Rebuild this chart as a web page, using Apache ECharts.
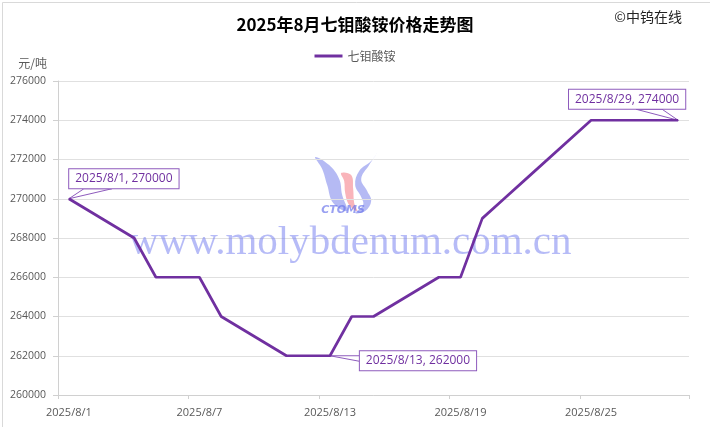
<!DOCTYPE html>
<html>
<head>
<meta charset="utf-8">
<script src="https://cdn.jsdelivr.net/npm/echarts@6/dist/echarts.min.js"></script>
<style>
  html, body { margin: 0; padding: 0; background: #fff; }
  #chart { width: 710px; height: 427px; }
</style>
</head>
<body>
<div id="chart"></div>
<script>
// Calendar days of August 2025 shown on the category axis
const days = [
  '2025/8/1','2025/8/2','2025/8/3','2025/8/4','2025/8/5','2025/8/6','2025/8/7',
  '2025/8/8','2025/8/9','2025/8/10','2025/8/11','2025/8/12','2025/8/13','2025/8/14',
  '2025/8/15','2025/8/16','2025/8/17','2025/8/18','2025/8/19','2025/8/20','2025/8/21',
  '2025/8/22','2025/8/23','2025/8/24','2025/8/25','2025/8/26','2025/8/27','2025/8/28',
  '2025/8/29'
];
// Ammonium heptamolybdate price, yuan/ton (null = no quote that day)
const prices = [
  270000, null, null, 268000, 266000, 266000, 266000,
  264000, null, null, 262000, 262000, 262000, 264000,
  264000, null, null, 266000, 266000, 269000, 270000,
  271000, null, null, 274000, 274000, 274000, 274000,
  274000
];
// Days carrying a callout: box offset from the point, and where the
// pointer wedge meets the box (edge + two offsets along it, from box centre)
const callouts = [
  { day: '2025/8/1',  dx: 55,  dy: -20, edge: 'bottom', a: -40, b: -12 },
  { day: '2025/8/13', dx: 88,  dy: 5,   edge: 'left',   a: -5,  b: 1 },
  { day: '2025/8/29', dx: -51, dy: -21, edge: 'bottom', a: 9,   b: 35 }
];
const yTicks = { min: 260000, max: 276000, step: 2000 };

const purple = '#7030A0';
const calloutLine = '#8e5bbd';
const grey = '#595959';

const seriesData = prices.map((v, i) => {
  const c = callouts.find(o => o.day === days[i]);
  if (!c || v === null) return v;
  return {
    value: v,
    label: {
      show: true,
      position: 'inside',
      formatter: days[i] + ', ' + v,
      color: purple,
      fontSize: 12,
      fontFamily: 'Open Sans, sans-serif',
      backgroundColor: '#fff',
      borderColor: calloutLine,
      borderWidth: 1,
      padding: [4, 6, 3, 6]
    }
  };
});

const blueMark = 'rgba(120,130,235,0.55)';

const chart = echarts.init(document.getElementById('chart'));
chart.setOption({
  backgroundColor: '#fff',
  animation: false,
  title: {
    text: '2025年8月七钼酸铵价格走势图',
    left: 'center',
    top: 11,
    textStyle: { fontFamily: 'Noto Sans CJK SC', fontWeight: 'bold', fontSize: 17, color: '#000' }
  },
  legend: {
    top: 45,
    left: 'center',
    icon: 'rect',
    itemWidth: 28,
    itemHeight: 3,
    itemGap: 4,
    textStyle: { fontFamily: 'Noto Sans CJK SC', fontSize: 12, color: grey },
    data: ['七钼酸铵']
  },
  grid: { left: 58, right: 21, top: 81, bottom: 32 },
  xAxis: {
    type: 'category',
    data: days,
    boundaryGap: true,
    axisLine: { lineStyle: { color: '#d0d0d0' } },
    axisTick: { show: true, interval: 5, length: 4, lineStyle: { color: '#d0d0d0' } },
    axisLabel: { interval: 5, color: grey, fontSize: 11, fontFamily: 'Open Sans, sans-serif', margin: 12 },
    splitLine: { show: false }
  },
  yAxis: {
    type: 'value',
    name: '元/吨',
    nameLocation: 'end',
    nameGap: 12,
    nameTextStyle: { color: grey, fontSize: 12, fontFamily: 'Noto Sans CJK SC', align: 'right', padding: [0, 11, 0, 0] },
    min: yTicks.min,
    max: yTicks.max,
    interval: yTicks.step,
    axisLine: { show: true, lineStyle: { color: '#d0d0d0' } },
    axisTick: { show: true, length: 5, lineStyle: { color: '#d0d0d0' } },
    axisLabel: { color: grey, fontSize: 10.5, fontFamily: 'Open Sans, sans-serif', margin: 12, formatter: v => String(v) },
    splitLine: { lineStyle: { color: '#e0e0e0' } }
  },
  graphic: [
    { type: 'rect', left: 0, top: 0, shape: { width: 709, height: 426 }, style: { fill: null, stroke: '#d9d9d9', lineWidth: 1 }, silent: true, z: 0 },
    { type: 'text', right: 28, top: 10, style: { text: '©中钨在线', fontFamily: 'Noto Sans CJK SC', fontSize: 14, fill: '#222' }, z: 10 },
    // CTOMS mark
    { type: 'group', left: 315, top: 153, z: 1, silent: true, children: [
      { type: 'polygon', shape: { smooth: 0.4, points: [[2,4],[16,12],[26,26],[29,42],[34,58],[20,50],[14,32],[9,16]] }, style: { fill: blueMark } },
      { type: 'polygon', shape: { smooth: 0.4, points: [[64,0],[56,12],[48,26],[54,38],[58,48],[52,58],[42,60],[50,52],[48,44],[42,32],[46,18],[58,8]] }, style: { fill: blueMark } },
      { type: 'polygon', shape: { smooth: 0.4, points: [[28,20],[38,22],[40,36],[41,50],[44,58],[36,52],[32,40],[31,28]] }, style: { fill: 'rgba(245,130,140,0.6)' } },
      { type: 'text', left: 8, top: 52, style: { text: 'CTOMS', fontFamily: 'DejaVu Sans', fontWeight: 'bold', fontStyle: 'italic', fontSize: 11, fill: 'rgba(110,120,235,0.7)' } }
    ] },
    { type: 'text', left: 129, top: 223, z: 1, silent: true,
      style: { text: 'www.molybdenum.com.cn', fontFamily: 'Liberation Serif', fontSize: 41, fill: 'rgba(110,120,240,0.5)' } }
  ],
  series: [{
    name: '七钼酸铵',
    type: 'line',
    data: seriesData,
    connectNulls: true,
    showSymbol: true,
    symbol: 'circle',
    symbolSize: 1,
    itemStyle: { color: purple },
    lineStyle: { color: purple, width: 2.7 },
    labelLayout: function (params) {
      const c = callouts.find(o => o.day === days[params.dataIndex]);
      return c ? { dx: c.dx, dy: c.dy, moveOverlap: false } : {};
    },
    z: 5
  }]
});

// Pointer wedges from each callout box to its data point
const boxHalfH = 10;
const wedges = callouts.map((c, k) => {
  const i = days.indexOf(c.day);
  const p = chart.convertToPixel({ seriesIndex: 0 }, [i, prices[i]]);
  const cx = p[0] + c.dx, cy = p[1] + c.dy;
  let q1, q2;
  if (c.edge === 'bottom') {
    q1 = [cx + c.a, cy + boxHalfH];
    q2 = [cx + c.b, cy + boxHalfH];
  } else {
    const left = p[0] + c.dx - 56;
    q1 = [left, cy + c.a];
    q2 = [left, cy + c.b];
  }
  return {
    id: 'wedge' + k,
    type: 'polygon',
    silent: true,
    z: 4,
    shape: { points: [p, q1, q2] },
    style: { fill: '#fff', stroke: calloutLine, lineWidth: 1 }
  };
});
chart.setOption({ graphic: wedges });
</script>
</body>
</html>
